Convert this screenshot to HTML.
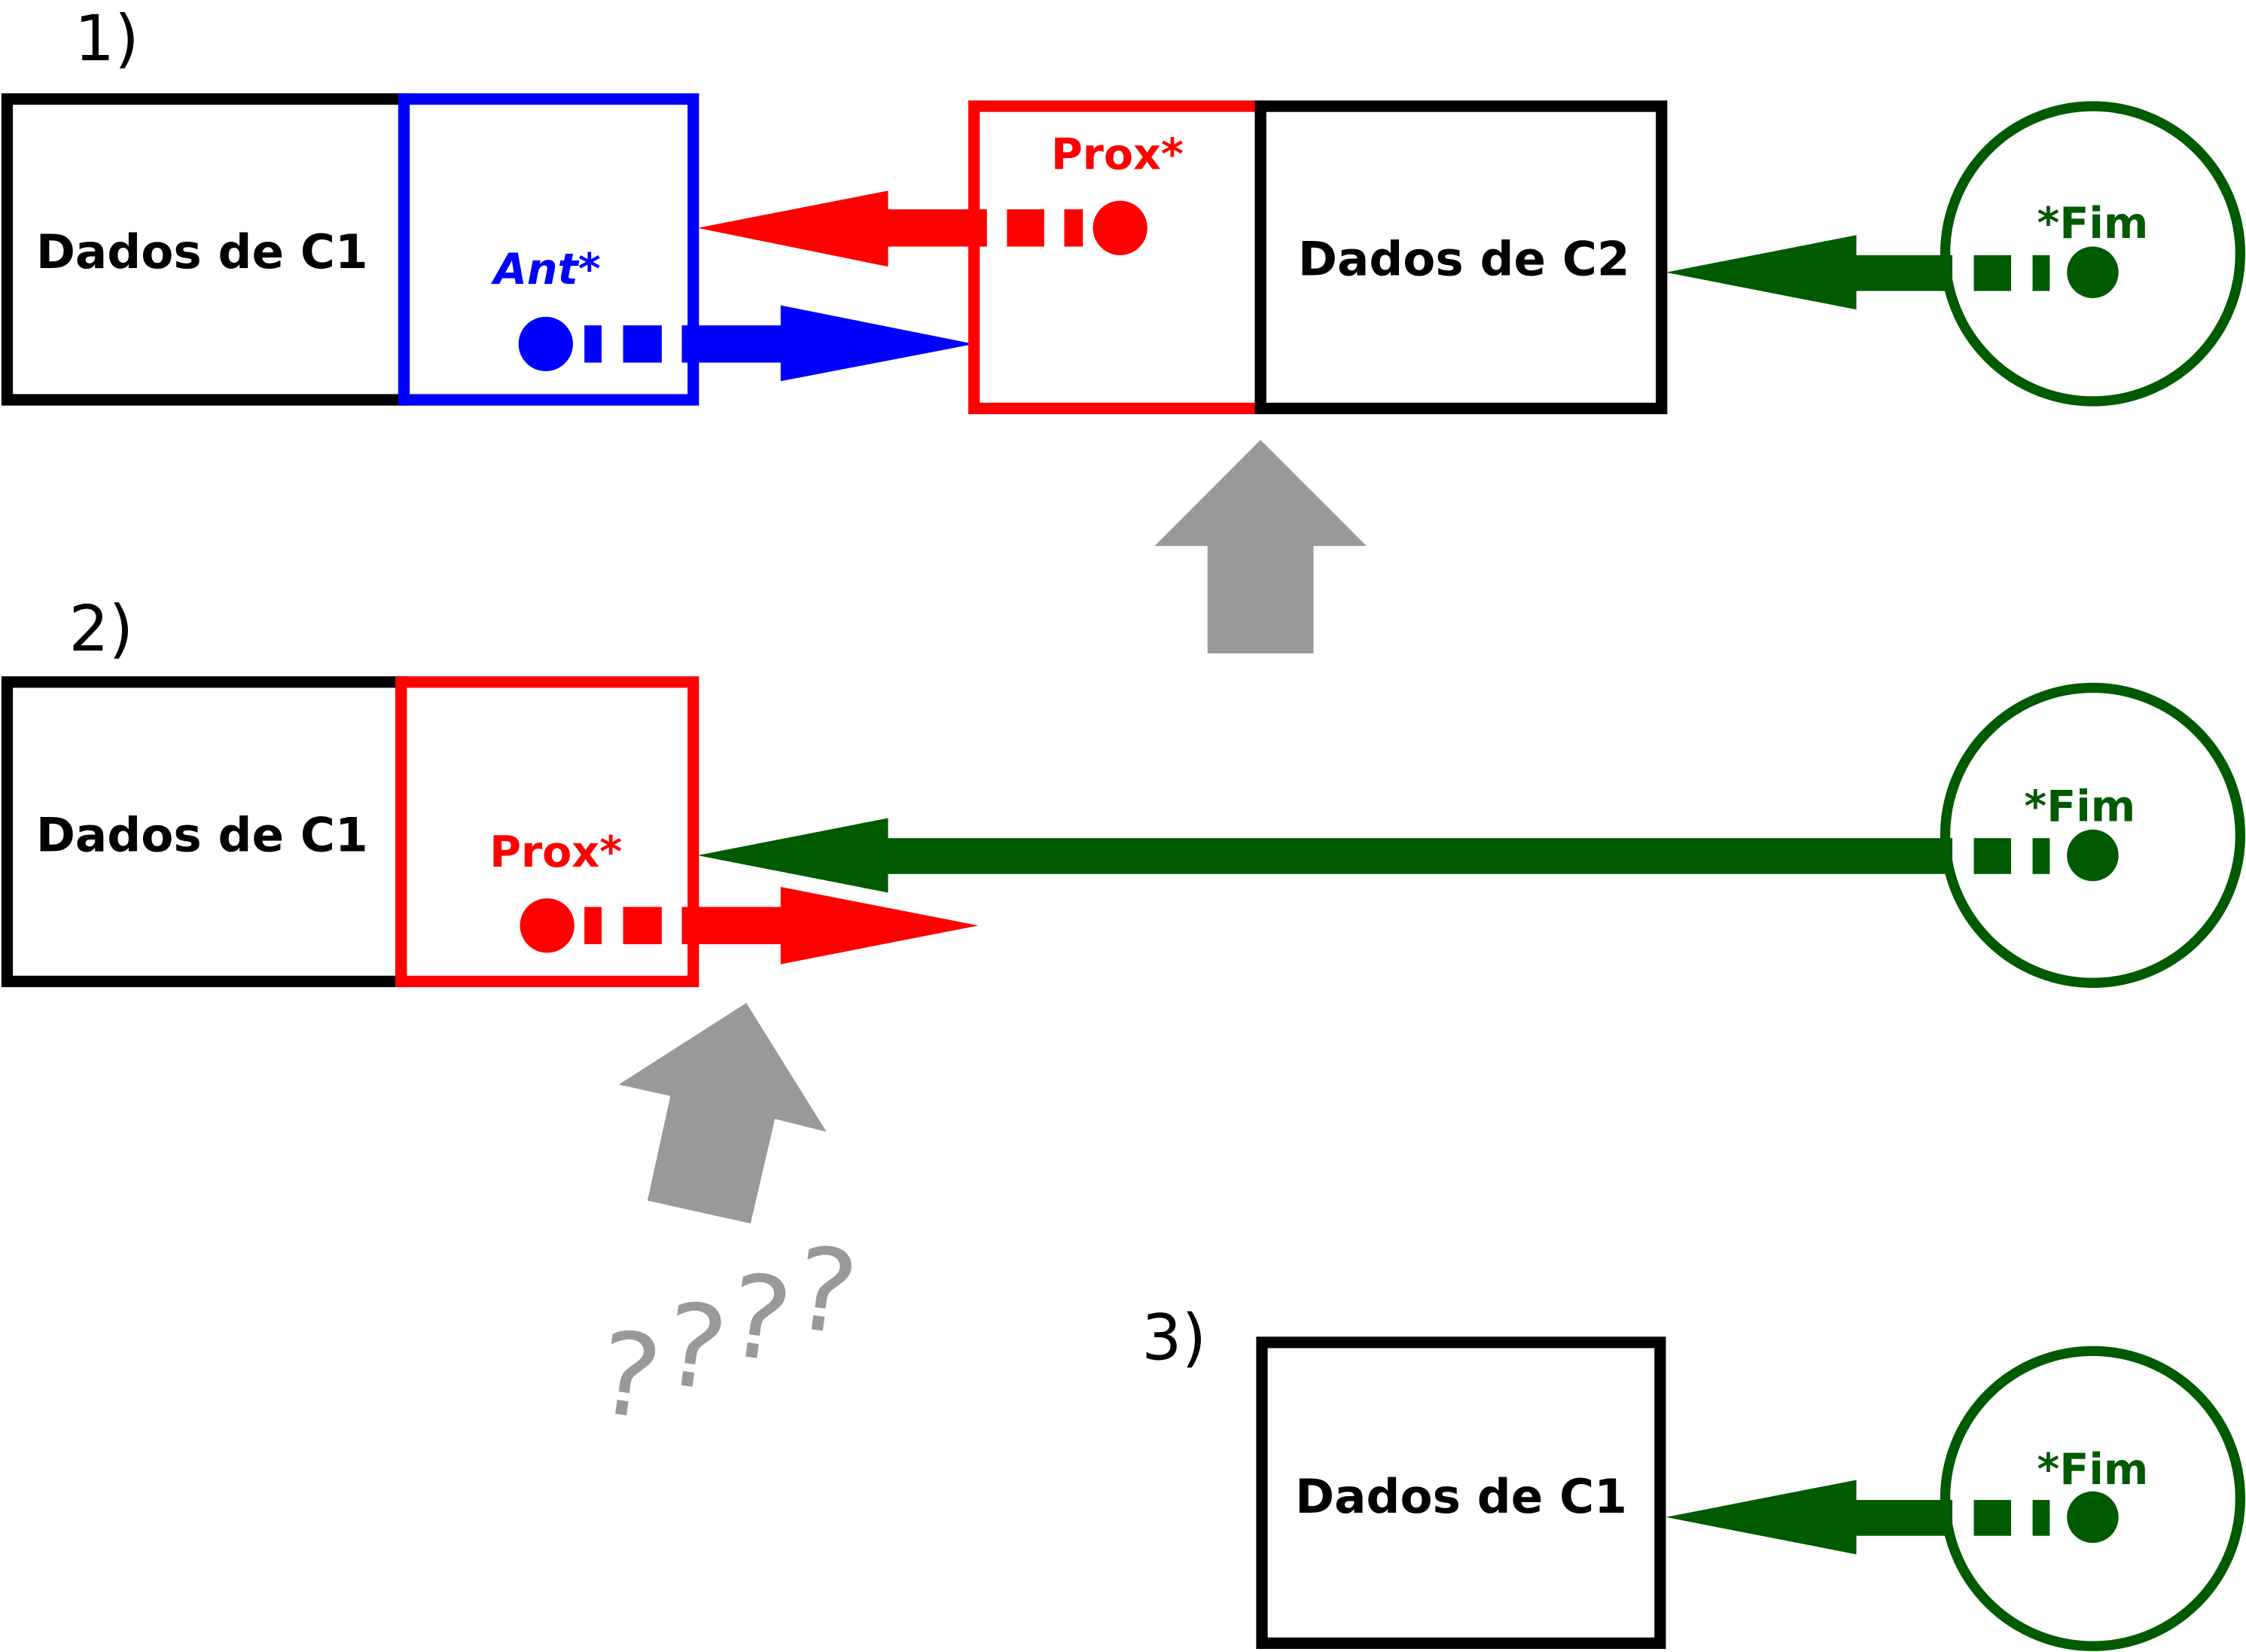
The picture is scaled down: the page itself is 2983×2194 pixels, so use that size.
<!DOCTYPE html>
<html><head><meta charset="utf-8"><style>
html,body{margin:0;padding:0;background:#fff}
svg{display:block}
text{font-family:"DejaVu Sans","Liberation Sans",sans-serif;font-weight:bold}
text.n{font-weight:normal}
</style></head><body>
<svg width="2983" height="2194" viewBox="0 0 1568 1153" xmlns="http://www.w3.org/2000/svg">
<rect width="1568" height="1153" fill="#fff"/>
<!-- Section 1 -->
<text class="n" x="52" y="42" font-size="44">1)</text>
<rect x="5" y="69" width="277" height="210" fill="none" stroke="#000" stroke-width="8"/>
<rect x="282" y="69" width="202" height="210" fill="none" stroke="#0000ff" stroke-width="8"/>
<text x="141" y="187" font-size="33" text-anchor="middle">Dados de C1</text>
<text x="382" y="198" font-size="30" text-anchor="middle" fill="#0000ff" font-style="italic">Ant*</text>
<g fill="#0000ff">
<circle cx="381" cy="240" r="19"/><rect x="408" y="227" width="12" height="26"/><rect x="435" y="227" width="27" height="26"/><rect x="476" y="227" width="70" height="26"/><polygon points="545,213 680,240 545,266"/></g>
<rect x="680" y="74" width="200" height="211" fill="none" stroke="#ff0000" stroke-width="8"/>
<rect x="880" y="74" width="280" height="211" fill="none" stroke="#000" stroke-width="8"/>
<text x="780" y="118" font-size="30" text-anchor="middle" fill="#ff0000">Prox*</text>
<text x="1022" y="192" font-size="33" text-anchor="middle">Dados de C2</text>
<g fill="#ff0000">
<circle cx="782" cy="159" r="19"/><rect x="743" y="146" width="13" height="26"/><rect x="703" y="146" width="26" height="26"/><rect x="619" y="146" width="70" height="26"/><polygon points="620,133 487,159 620,186"/></g>
<circle cx="1461" cy="177" r="103" fill="none" stroke="#005a00" stroke-width="7"/>
<text x="1461" y="166" font-size="30" text-anchor="middle" fill="#005a00">*Fim</text>
<g fill="#005a00">
<circle cx="1461" cy="190" r="18"/><rect x="1419" y="178" width="12" height="25"/><rect x="1378" y="178" width="26" height="25"/><rect x="1295" y="178" width="68" height="25"/><polygon points="1296,164 1163,190 1296,216"/></g>
<polygon points="880,307 954,381 917,381 917,456 843,456 843,381 806,381" fill="#999"/>
<!-- Section 2 -->
<text class="n" x="48" y="454" font-size="44">2)</text>
<rect x="5" y="476" width="275" height="209" fill="none" stroke="#000" stroke-width="8"/>
<rect x="280" y="476" width="204" height="209" fill="none" stroke="#ff0000" stroke-width="8"/>
<text x="141" y="594" font-size="33" text-anchor="middle">Dados de C1</text>
<text x="388" y="605" font-size="30" text-anchor="middle" fill="#ff0000">Prox*</text>
<g fill="#ff0000">
<circle cx="382" cy="646" r="19"/><rect x="408" y="633" width="12" height="26"/><rect x="435" y="633" width="27" height="26"/><rect x="476" y="633" width="70" height="26"/><polygon points="545,619 683,646 545,673"/></g>
<circle cx="1461" cy="583" r="103" fill="none" stroke="#005a00" stroke-width="7"/>
<text x="1452" y="573" font-size="30" text-anchor="middle" fill="#005a00">*Fim</text>
<g fill="#005a00">
<circle cx="1461" cy="597" r="18"/><rect x="1419" y="585" width="12" height="25"/><rect x="1378" y="585" width="26" height="25"/><rect x="619" y="585" width="744" height="25"/><polygon points="620,571 487,597 620,623"/></g>
<polygon points="521,700 577,790 541,781 524,854 452,838 468,765 432,757" fill="#999"/>
<g fill="#999" font-size="80" text-anchor="middle">
<text class="n" x="440" y="988" transform="rotate(8 440 955)">?</text>
<text class="n" x="486" y="968" transform="rotate(8 486 935)">?</text>
<text class="n" x="531" y="948" transform="rotate(8 531 915)">?</text>
<text class="n" x="577" y="929" transform="rotate(8 577 896)">?</text>
</g>
<!-- Section 3 -->
<text class="n" x="797" y="949" font-size="44">3)</text>
<rect x="881" y="937" width="278" height="210" fill="none" stroke="#000" stroke-width="8"/>
<text x="1020" y="1056" font-size="33" text-anchor="middle">Dados de C1</text>
<circle cx="1461" cy="1046" r="103" fill="none" stroke="#005a00" stroke-width="7"/>
<text x="1461" y="1036" font-size="30" text-anchor="middle" fill="#005a00">*Fim</text>
<g fill="#005a00">
<circle cx="1461" cy="1059" r="18"/><rect x="1419" y="1047" width="12" height="25"/><rect x="1378" y="1047" width="26" height="25"/><rect x="1295" y="1047" width="68" height="25"/><polygon points="1296,1033 1163,1059 1296,1085"/></g>
</svg>
</body></html>
